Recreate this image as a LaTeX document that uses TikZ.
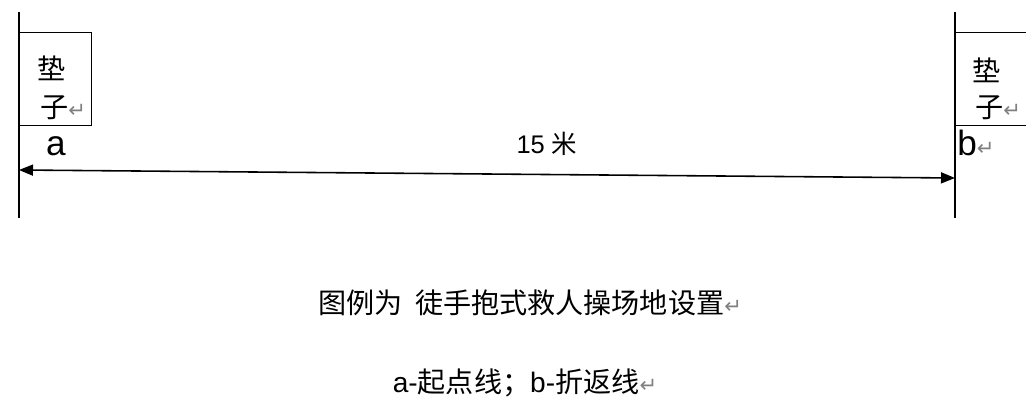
\documentclass[tikz,border=0pt]{standalone}
\usepackage{fontspec}
\setmainfont{Liberation Sans}
\newfontfamily\cjk{Noto Sans CJK SC}
\newfontfamily\symb{DejaVu Sans}
\usetikzlibrary{positioning, arrows.meta}
\newcommand{\parmark}{{\symb\color{gray}\fontsize{12pt}{14pt}\selectfont ↵}}

\begin{document}
\begin{tikzpicture}[x=0.02cm, y=-0.02cm,
  mat/.style={draw, line width=0.8pt, inner sep=0pt, anchor=north west},
  cn/.style={font=\cjk\fontsize{16pt}{18pt}\selectfont, inner sep=0pt},
  lbl/.style={font=\fontsize{20pt}{22pt}\selectfont, inner sep=0pt},
  edgeline/.style={line width=1.1pt}]
  \useasboundingbox (0,0) rectangle (1026,402);

  % mats at both ends
  \draw (19,32)  node[mat, minimum width=1.44cm, minimum height=1.86cm](matA) {};
  \draw (955,32) node[mat, minimum width=1.6cm, minimum height=1.86cm](matB) {};
  \draw (52,68)  node[cn](matAtop) {垫};
  \draw (40,108) node[cn, anchor=west](matAbot) {子\parmark};
  \draw (987,70) node[cn](matBtop) {垫};
  \draw (975,108) node[cn, anchor=west](matBbot) {子\parmark};

  % start and turn lines
  \coordinate (aTop) at (19,12);
  \coordinate (aBot) at (19,218);
  \coordinate (bTop) at (955,12);
  \coordinate (bBot) at (955,218);
  \draw[edgeline] (aTop) -- (aBot);
  \draw[edgeline] (bTop) -- (bBot);

  \draw (56,155)  node[lbl, anchor=base](la) {a};
  \draw (957,155) node[lbl, anchor=base west](lb) {b\parmark};

  % distance
  \coordinate (dA) at (19,170);
  \coordinate (dB) at (955,178);
  \draw[line width=0.9pt, {Triangle[length=0.28cm, width=0.22cm]}-{Triangle[length=0.28cm, width=0.22cm]}] (dA) -- (dB);
  \draw (547,144) node[cn, font=\fontsize{14.5pt}{16pt}\selectfont](dist) {15 {\cjk 米}};

  % captions
  \draw (530,303) node[cn](cap) {图例为\hspace{0.45em}徒手抱式救人操场地设置\parmark};
  \draw (525,383) node[cn](key) {{\rmfamily a-}起点线；{\rmfamily b-}折返线\parmark};
\end{tikzpicture}
\end{document}
